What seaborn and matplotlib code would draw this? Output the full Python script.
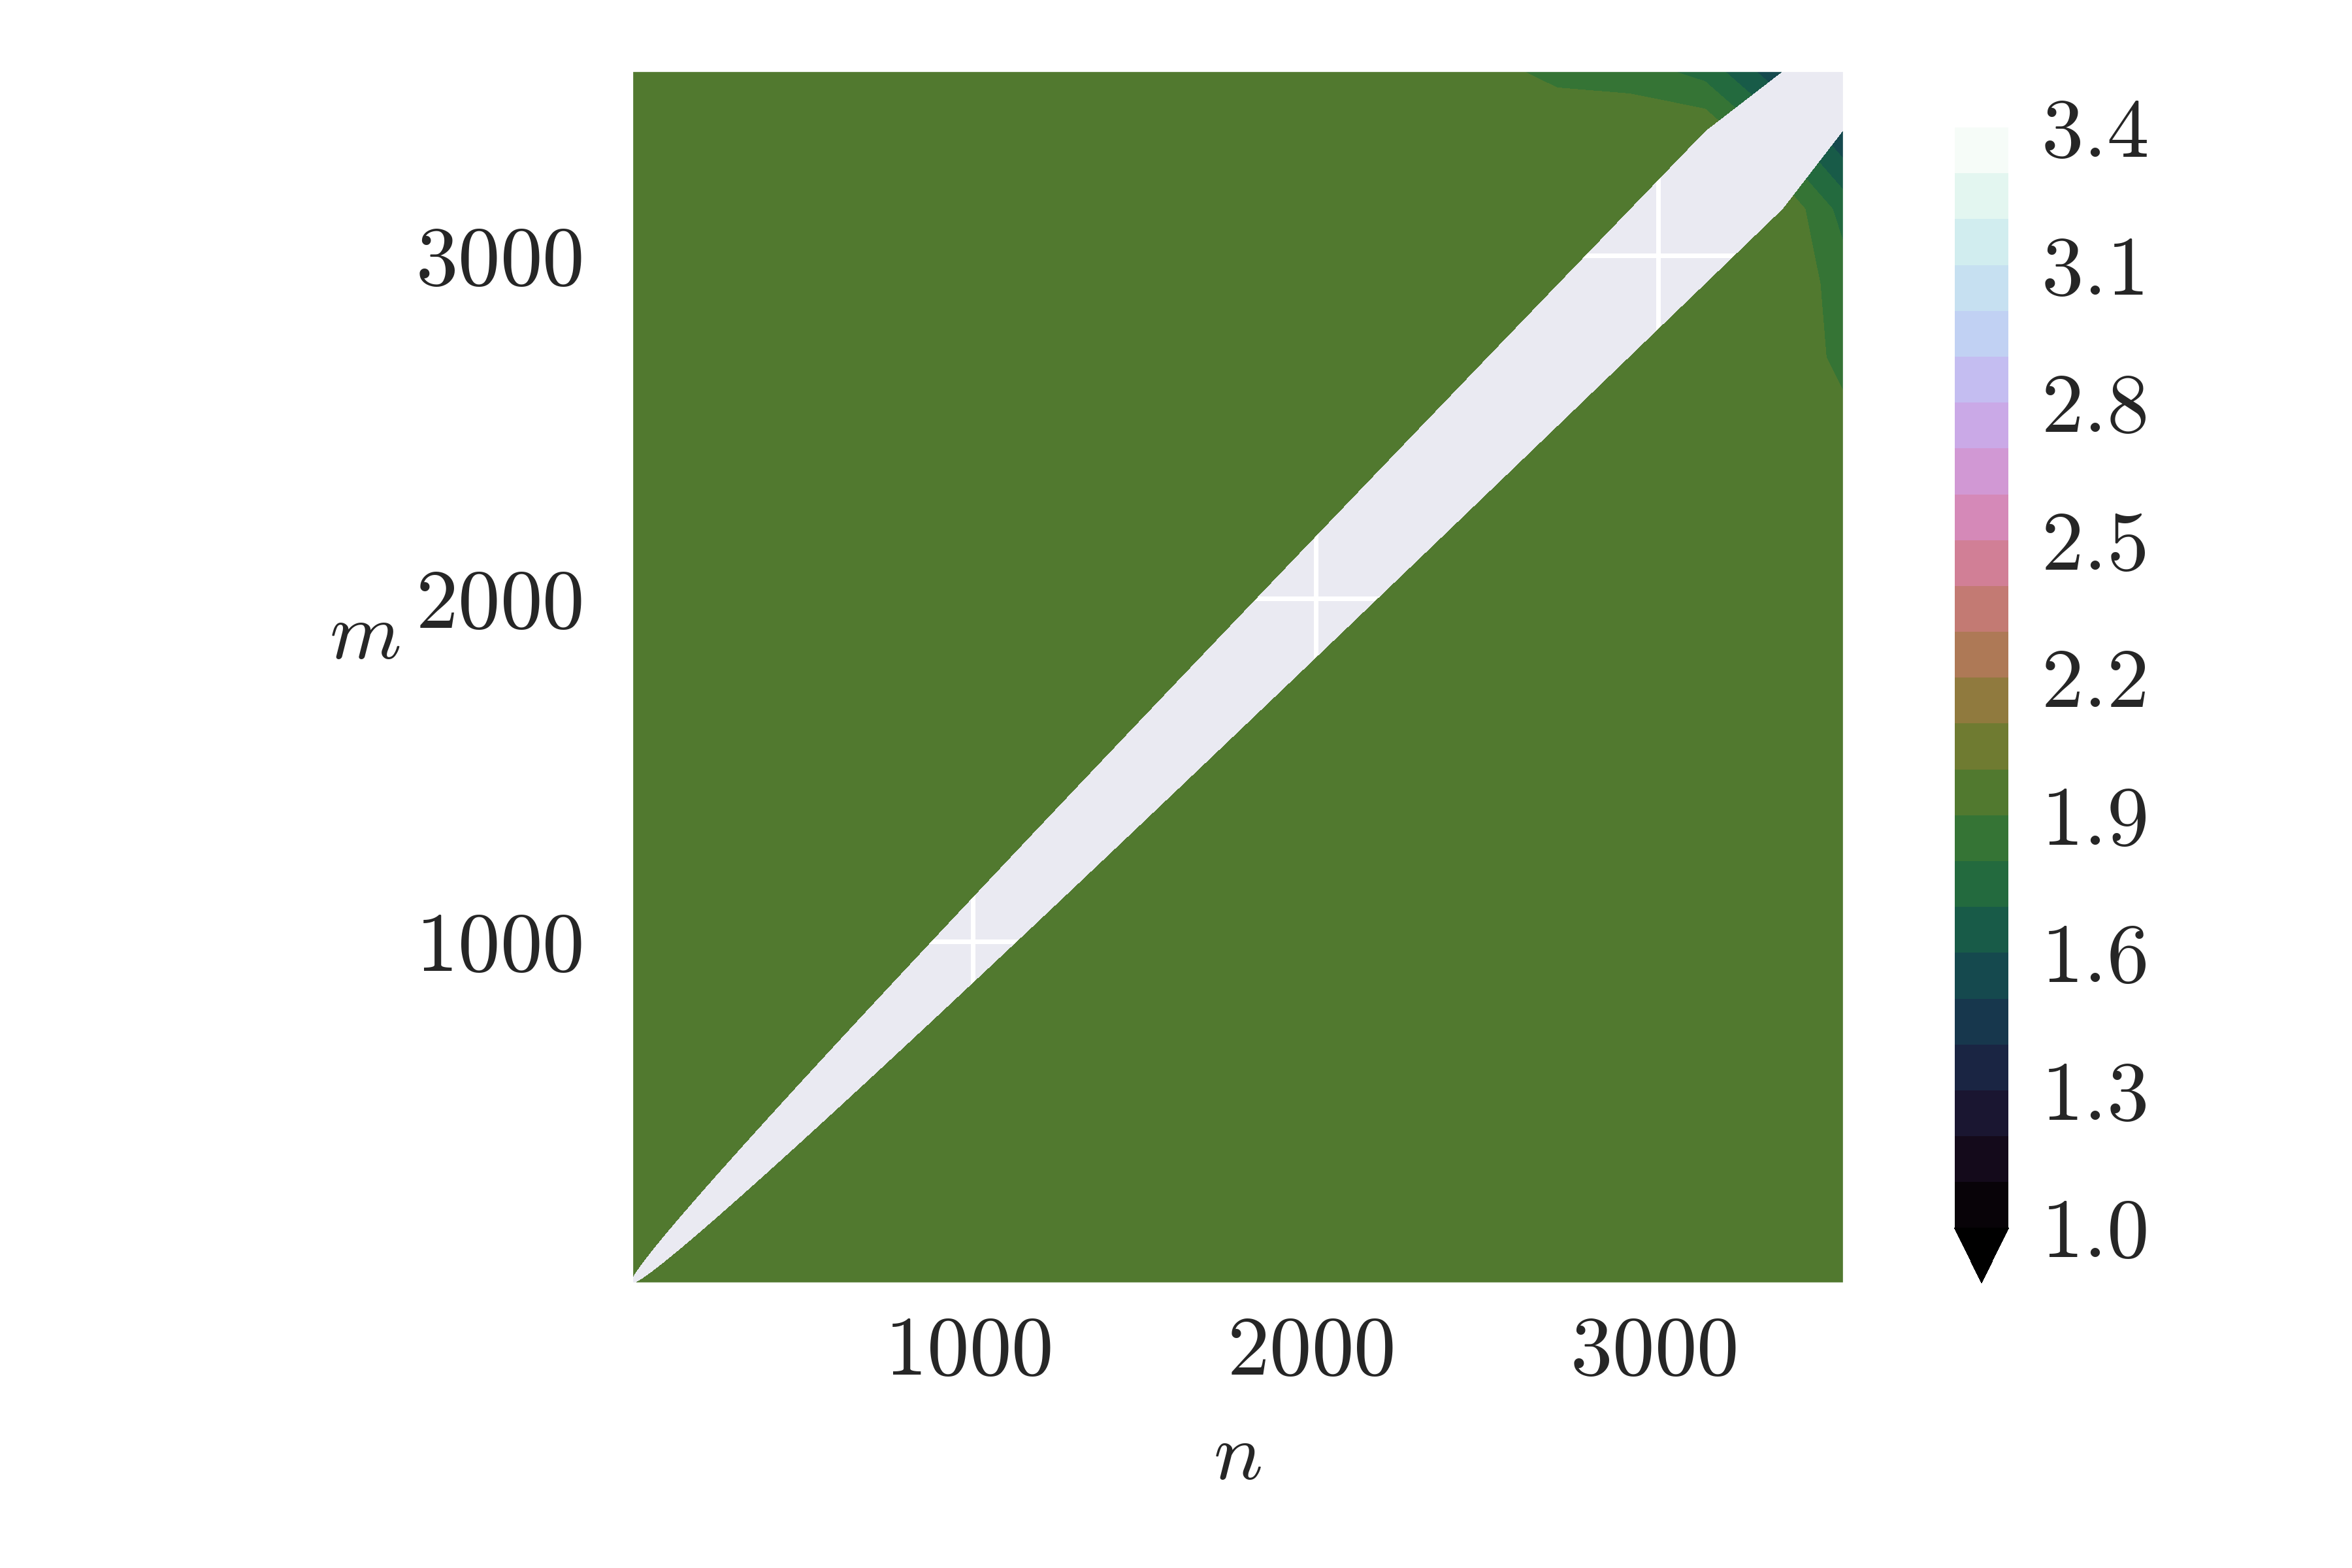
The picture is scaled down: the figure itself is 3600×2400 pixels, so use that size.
import numpy as np
import pandas as pd
import matplotlib.pyplot as plt
import matplotlib.transforms as mtransforms
import seaborn as sns

# Style: seaborn darkgrid, Computer Modern text
sns.set_style("darkgrid")
plt.rcParams["font.family"] = "serif"
plt.rcParams["font.serif"] = ["cmr10", "DejaVu Serif"]
plt.rcParams["mathtext.fontset"] = "cm"
plt.rcParams["axes.formatter.use_mathtext"] = True

# Grid of problem sizes (same for n and m)
sizes = [4, 16, 36, 64, 100, 144, 196, 256, 324, 400, 484, 576, 676, 784, 900,
         1024, 1156, 1296, 1444, 1600, 1764, 1936, 2116, 2304, 2500, 2704,
         2916, 3136, 3364, 3540]

# Measured exponent: ~1.95 almost everywhere, undefined where n == m
base_exponent = 1.95
# values along the outer edge (m = 3540, and by symmetry n = 3540)
edge_sizes = [2500, 2704, 2916, 3136, 3364]
edge_exponent = [1.92, 1.88, 1.85, 1.76, 1.51]
# values one row in (m = 3364, and by symmetry n = 3364)
inner_sizes = [2916, 3136]
inner_exponent = [1.98, 1.98]

levels = np.linspace(1.0, 3.4, 25)
cbar_ticks = [1.0, 1.3, 1.6, 1.9, 2.2, 2.5, 2.8, 3.1, 3.4]
xticks = [1000, 2000, 3000]
yticks = [1000, 2000, 3000]

# Build the table
k = len(sizes)
Z = np.full((k, k), base_exponent)
last = sizes.index(3540)
row2 = sizes.index(3364)
for s, v in zip(edge_sizes, edge_exponent):
    i = sizes.index(s)
    Z[last, i] = v
    Z[i, last] = v
for s, v in zip(inner_sizes, inner_exponent):
    i = sizes.index(s)
    Z[row2, i] = v
    Z[i, row2] = v
np.fill_diagonal(Z, np.nan)

cmap = sns.color_palette("cubehelix", as_cmap=True)

fig = plt.figure(figsize=(12, 8), dpi=300)
ax = fig.add_axes([0.2685, 0.1818, 0.5153, 0.7732])
cax = fig.add_axes([0.831, 0.1818, 0.023, 0.7369])

cs = ax.contourf(sizes, sizes, Z, levels=levels, cmap=cmap, extend="min")
ax.grid(True, color="white", linewidth=1.7)
ax.set_axisbelow(True)

ax.set_xticks(xticks)
ax.set_yticks(yticks)
ax.tick_params(labelsize=31, length=0)
ax.tick_params(axis="x", pad=12)
ax.tick_params(axis="y", pad=18)
shift = mtransforms.ScaledTranslation(-8 / 300, 0, fig.dpi_scale_trans)
for lab in ax.get_xticklabels():
    lab.set_transform(lab.get_transform() + shift)

ax.set_xlabel("$n$", fontsize=30, va="center", ha="center")
ax.set_ylabel("$m$", fontsize=30, rotation=0, va="center", ha="center")
ax.xaxis.set_label_coords(0.5, -0.145)
ax.yaxis.set_label_coords(-0.22, 0.532)

cbar = fig.colorbar(cs, cax=cax, ticks=cbar_ticks)
cbar.outline.set_visible(False)
cax.tick_params(labelsize=31, pad=12, length=0)

fig.savefig("out.png", dpi=300)
